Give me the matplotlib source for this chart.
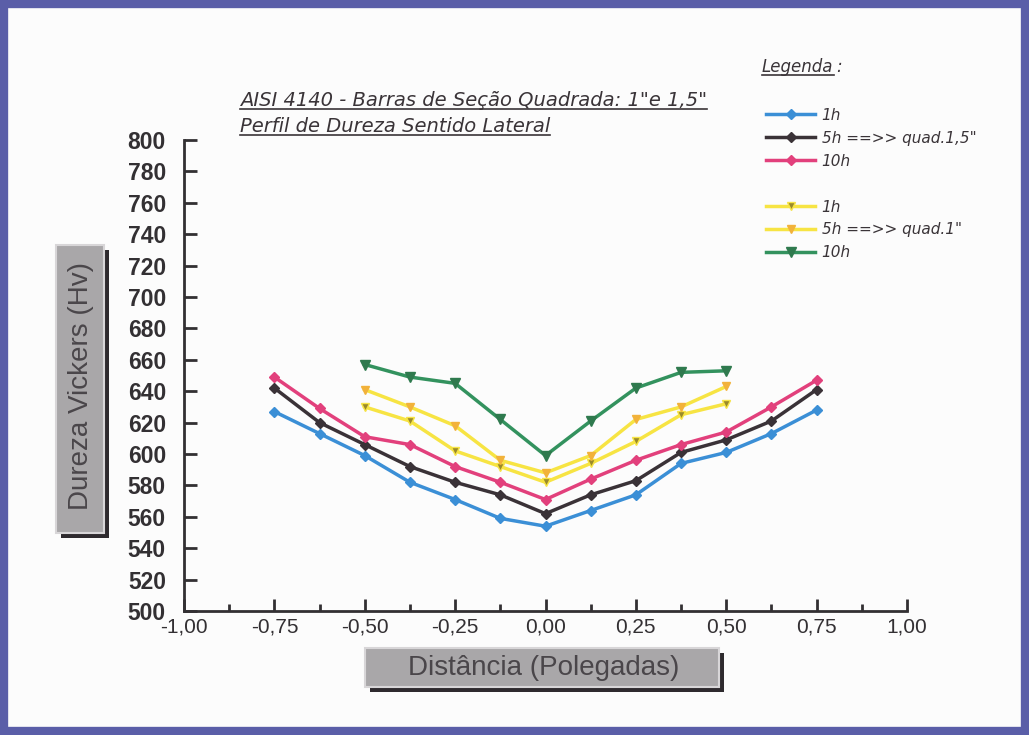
import matplotlib.pyplot as plt
import matplotlib.patches as mpatches
from matplotlib.lines import Line2D
import numpy as np

plt.rcParams['font.family'] = ['Liberation Sans', 'DejaVu Sans']

# distancias (polegadas)
x_15 = [-0.75, -0.625, -0.5, -0.375, -0.25, -0.125, 0.0, 0.125, 0.25, 0.375, 0.5, 0.625, 0.75]
x_10 = [-0.5, -0.375, -0.25, -0.125, 0.0, 0.125, 0.25, 0.375, 0.5]

# barra quadrada 1,5"
hv_15_1h = [627, 613, 599, 582, 571, 559, 554, 564, 574, 594, 601, 613, 628]
hv_15_5h = [642, 620, 606, 592, 582, 574, 562, 574, 583, 601, 609, 621, 641]
hv_15_10h = [649, 629, 611, 606, 592, 582, 571, 584, 596, 606, 614, 630, 647]

# barra quadrada 1"
hv_10_1h = [630, 621, 602, 592, 582, 594, 608, 625, 632]
hv_10_5h = [641, 630, 618, 596, 588, 599, 622, 630, 643]
hv_10_10h = [657, 649, 645, 622, 599, 621, 642, 652, 653]

x_ticks = [-1.0, -0.75, -0.5, -0.25, 0.0, 0.25, 0.5, 0.75, 1.0]
y_ticks = list(range(500, 801, 20))

W, H = 1029, 735
fig = plt.figure(figsize=(W / 100, H / 100), dpi=100)
fig.patch.set_facecolor('#fcfcfc')

def fx(px):
    return px / W

def fy(py):
    return 1 - py / H

cor_txt = '#3a3438'
italico = {'family': 'DejaVu Sans', 'style': 'oblique'}

ax = fig.add_axes([fx(184), fy(611), fx(907) - fx(184), fy(140) - fy(611)])
ax.set_facecolor('none')

l1, = ax.plot(x_15, hv_15_1h, color='#3b8fd6', lw=2.5, marker='D', ms=5, label='1h')
l2, = ax.plot(x_15, hv_15_5h, color='#3a3237', lw=2.5, marker='D', ms=5, label='5h ==>> quad.1,5"')
l3, = ax.plot(x_15, hv_15_10h, color='#e2407c', lw=2.5, marker='D', ms=5, label='10h')
l4, = ax.plot(x_10, hv_10_1h, color='#f7e443', lw=2.5, marker='v', ms=6,
              mfc='#9a8a2a', mec='#f7e443', label='1h')
l5, = ax.plot(x_10, hv_10_5h, color='#f7e443', lw=2.5, marker='v', ms=6,
              mfc='#f2b23a', mec='#f2b23a', label='5h ==>> quad.1"')
l6, = ax.plot(x_10, hv_10_10h, color='#33925e', lw=2.5, marker='v', ms=7,
              mfc='#2f7a4e', mec='#2f7a4e', label='10h')

ax.set_xlim(-1, 1)
ax.set_ylim(500, 800)
ax.set_xticks(x_ticks)
ax.set_xticklabels([f'{v:.2f}'.replace('.', ',') for v in x_ticks])
ax.set_xticks(np.arange(-0.875, 1.0, 0.25), minor=True)
ax.set_yticks(y_ticks)
for s in ['top', 'right']:
    ax.spines[s].set_visible(False)
for s in ['left', 'bottom']:
    ax.spines[s].set_color('#333033')
    ax.spines[s].set_linewidth(2)
ax.tick_params(axis='both', which='major', direction='in', length=9, width=2, color='#333033')
ax.tick_params(axis='x', which='minor', direction='in', length=5, width=2, color='#333033')
ax.tick_params(axis='y', labelsize=16.5, labelcolor='#333033', pad=13)
ax.tick_params(axis='x', labelsize=15, labelcolor='#333033', pad=5)
for t in ax.get_yticklabels():
    t.set_fontweight('bold')

# legenda
blank = Line2D([], [], color='none')
leg = fig.legend([l1, l2, l3, blank, l4, l5, l6],
                 ['1h', '5h ==>> quad.1,5"', '10h', '', '1h', '5h ==>> quad.1"', '10h'],
                 loc='upper left', bbox_to_anchor=(fx(752), fy(94)), frameon=False,
                 handlelength=3.25, handletextpad=0.4, labelspacing=0.52,
                 prop={**italico, 'size': 11})
for t in leg.get_texts():
    t.set_color(cor_txt)

legenda = fig.text(fx(762), fy(67), 'Legenda', fontsize=12, color=cor_txt, va='center', **italico)
fig.text(fx(836), fy(67), ':', fontsize=12, color=cor_txt, va='center', **italico)

# titulo
t1 = fig.text(fx(240), fy(100), 'AISI 4140 - Barras de Seção Quadrada: 1"e 1,5"',
              fontsize=14, color=cor_txt, va='center', **italico)
t2 = fig.text(fx(240), fy(126), 'Perfil de Dureza Sentido Lateral',
              fontsize=14, color=cor_txt, va='center', **italico)

# caixas dos rotulos dos eixos
def caixa(x0, y0, x1, y1):
    fig.add_artist(mpatches.Rectangle((fx(x0 + 5), fy(y1 + 5)), fx(x1 - x0), fy(y0) - fy(y1),
                                      transform=fig.transFigure, facecolor='#2e2a2e',
                                      edgecolor='none'))
    fig.add_artist(mpatches.Rectangle((fx(x0), fy(y1)), fx(x1 - x0), fy(y0) - fy(y1),
                                      transform=fig.transFigure, facecolor='#a9a7a9',
                                      edgecolor='#d8d6d8', lw=1.5))

caixa(56, 245, 104, 533)
fig.text(fx(81), fy(386), 'Dureza Vickers (Hv)', rotation=90, fontsize=20,
         color='#4a464a', ha='center', va='center')
caixa(365, 648, 719, 687)
fig.text(fx(544), fy(668), 'Distância (Polegadas)', fontsize=20,
         color='#4a464a', ha='center', va='center')

# borda azul
fig.add_artist(mpatches.Rectangle((0.0035, 0.005), 0.993, 0.99, transform=fig.transFigure,
                                  facecolor='none', edgecolor='#5a5ea8', lw=6))

# sublinhado
fig.canvas.draw()
r = fig.canvas.get_renderer()
for t in [t1, t2, legenda]:
    bb = t.get_window_extent(r)
    yb = bb.y0 + 1
    fig.add_artist(Line2D([bb.x0 / W, bb.x1 / W], [yb / H, yb / H],
                          transform=fig.transFigure, color=cor_txt, lw=1.2))

fig.savefig('out.png', dpi=100, facecolor=fig.get_facecolor())
